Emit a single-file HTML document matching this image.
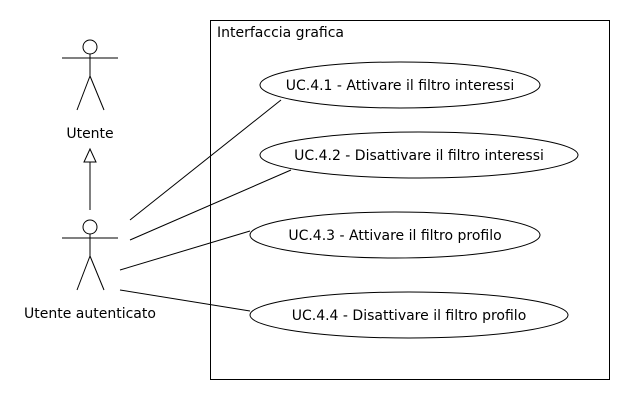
<!DOCTYPE html>
<html><head><style>body{margin:0;background:#fff}svg{display:block}</style></head><body>
<svg width="630" height="400" xmlns="http://www.w3.org/2000/svg" font-family="DejaVu Sans, sans-serif" font-size="14" fill="none" stroke="#000" stroke-width="1">
<rect x="0" y="0" width="630" height="400" fill="#fff" stroke="none"/>
<rect x="210.5" y="20.5" width="399" height="359"/>
<text x="217" y="37" fill="#000" stroke="none">Interfaccia grafica</text>
<circle cx="90" cy="47" r="7"/>
<line x1="62" y1="58" x2="118" y2="58"/>
<line x1="90" y1="54" x2="90" y2="76"/>
<line x1="90" y1="76" x2="77" y2="110"/>
<line x1="90" y1="76" x2="104" y2="110"/>
<text x="90" y="138" text-anchor="middle" fill="#000" stroke="none">Utente</text>
<polygon points="90,149 84,162 96,162" fill="#fff"/>
<line x1="90" y1="162" x2="90" y2="210"/>
<circle cx="90" cy="227" r="7"/>
<line x1="62" y1="238" x2="118" y2="238"/>
<line x1="90" y1="234" x2="90" y2="256"/>
<line x1="90" y1="256" x2="77" y2="290"/>
<line x1="90" y1="256" x2="104" y2="290"/>
<text x="90" y="318" text-anchor="middle" fill="#000" stroke="none">Utente autenticato</text>
<line x1="130" y1="220" x2="281" y2="100"/>
<line x1="130" y1="240" x2="291" y2="170"/>
<line x1="120" y1="270" x2="250" y2="231"/>
<line x1="120" y1="290" x2="250" y2="311"/>
<ellipse cx="400" cy="85" rx="140" ry="23" fill="#fff"/>
<text x="400" y="90" text-anchor="middle" fill="#000" stroke="none">UC.4.1 - Attivare il filtro interessi</text>
<ellipse cx="419" cy="155" rx="159" ry="23" fill="#fff"/>
<text x="419" y="160" text-anchor="middle" fill="#000" stroke="none">UC.4.2 - Disattivare il filtro interessi</text>
<ellipse cx="395" cy="235" rx="145" ry="23" fill="#fff"/>
<text x="395" y="240" text-anchor="middle" fill="#000" stroke="none">UC.4.3 - Attivare il filtro profilo</text>
<ellipse cx="409" cy="315" rx="159" ry="23" fill="#fff"/>
<text x="409" y="320" text-anchor="middle" fill="#000" stroke="none">UC.4.4 - Disattivare il filtro profilo</text>
</svg>
</body></html>
